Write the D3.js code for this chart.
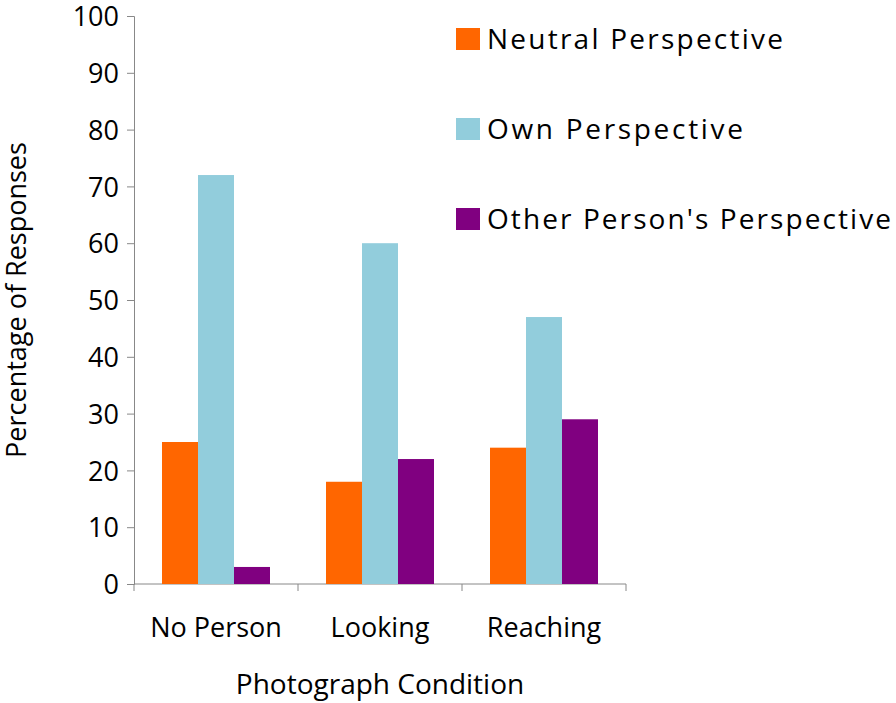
<!DOCTYPE html>
<html><head><meta charset="utf-8">
<script src="https://cdn.jsdelivr.net/npm/d3@7"></script>
<style>body{margin:0;background:#fff}text{font-family:"Open Sans","Liberation Sans",sans-serif;fill:#000}</style>
</head><body><svg id="c" width="896" height="703"></svg>
<script>
const categories=["No Person","Looking","Reaching"];
const seriesNames=["Neutral Perspective","Own Perspective","Other Person's Perspective"];
const neutral=[25,18,24];
const own=[72,60,47];
const other=[3,22,29];
const yTicks=[0,10,20,30,40,50,60,70,80,90,100];
const colors=["#FF6600","#92CDDC","#800080"];
const series=[neutral,own,other];

const svg=d3.select("#c");
const y=d3.scaleLinear().domain([0,100]).range([584,16]);
const x=d3.scaleBand().domain(categories).range([134,626]).paddingInner(0).paddingOuter(0);
const xs=d3.scaleBand().domain(d3.range(3)).range([0,x.bandwidth()]).paddingInner(0).paddingOuter(0.778);

const yAxis=svg.append("g").attr("transform","translate(134,0)").call(d3.axisLeft(y).tickValues(yTicks).tickSize(7).tickPadding(8));
yAxis.selectAll("text").style("font-size","27px").attr("dy","0.36em");
yAxis.selectAll("line,path").attr("stroke","#888");

const xAxis=svg.append("g").attr("transform","translate(0,584)").call(d3.axisBottom(x).tickSize(0).tickPadding(34));
xAxis.selectAll("text").style("font-size","27px");
xAxis.select("path").attr("stroke","#888").attr("d","M134,0H626");
svg.selectAll(".sep").data([134,298,462,626]).enter().append("line")
 .attr("x1",d=>d).attr("x2",d=>d).attr("y1",584).attr("y2",591).attr("stroke","#888");

series.forEach((s,i)=>{
 svg.append("g").selectAll("rect").data(s).enter().append("rect")
  .attr("x",(d,j)=>x(categories[j])+xs(i)).attr("width",xs.bandwidth())
  .attr("y",d=>y(d)).attr("height",d=>y(0)-y(d)).attr("fill",colors[i]);
});

const lg=svg.append("g");
seriesNames.forEach((n,i)=>{
 lg.append("rect").attr("x",456).attr("y",28+i*90).attr("width",24).attr("height",22).attr("fill",colors[i]);
 lg.append("text").attr("x",487).attr("y",49+i*90).style("font-size","28px").attr("textLength",[296,256,404][i]).text(n);
});

svg.append("text").attr("transform","translate(26,300) rotate(-90)").attr("text-anchor","middle").style("font-size","27px").text("Percentage of Responses");
svg.append("text").attr("x",380).attr("y",694).attr("text-anchor","middle").style("font-size","28px").text("Photograph Condition");
</script></body></html>
